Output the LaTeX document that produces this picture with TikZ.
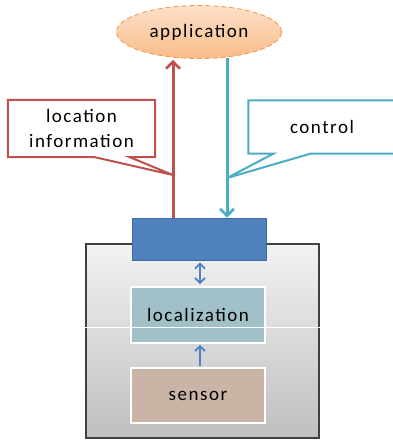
\documentclass[tikz,border=0pt]{standalone}
\usepackage{fontspec}
\setmainfont{Carlito}[LetterSpace=8]
\usetikzlibrary{positioning,shapes.geometric,shapes.misc,arrows.meta,calc}
\definecolor{appfill}{HTML}{F9BC88}
\definecolor{appline}{HTML}{F79646}
\definecolor{infored}{HTML}{C0504D}
\definecolor{ctrlcyan}{HTML}{4BACC6}
\definecolor{hubblue}{HTML}{4F81BD}
\definecolor{hubline}{HTML}{3C6AA5}
\definecolor{locfill}{HTML}{A2C0C8}
\definecolor{sensfill}{HTML}{C9B4A5}
\tikzset{
  app/.style={ellipse, draw=appline, dash pattern=on 5pt off 3pt, line width=0.8pt,
    top color=appfill!45!white, bottom color=appfill, minimum width=165pt, minimum height=53pt, inner sep=0pt},
  callbox/.style={rectangle, align=center, inner sep=0pt},
  layerbox/.style={rectangle, draw=white, line width=1.8pt, minimum width=134pt, inner sep=0pt},
  flow/.style={line width=3pt, -{Straight Barb[length=7pt,width=14pt,line width=2.6pt]}},
  link/.style={hubblue, line width=1.8pt}
}
\begin{document}
\begin{tikzpicture}[x=1pt, y=-1pt, font=\fontsize{19}{26}\selectfont]
  \useasboundingbox (0,0) rectangle (392,440);

  %device
  \node[rectangle, draw=black!75, line width=1.2pt, top color=black!5, bottom color=black!25,
    minimum width=233pt, minimum height=194pt] (dev) at (202.5,341) {};

  %blocks
  \node[app] (app) at (199,32) {application};
  \node[chamfered rectangle, chamfered rectangle corners={north west, north east},
    chamfered rectangle xsep=5pt, fill=hubblue, draw=hubline, line width=0.8pt,
    minimum width=134pt, minimum height=42pt, inner sep=0pt] (hub) at (199,239) {};
  \node[layerbox, fill=locfill, minimum height=56pt] (loc) at (198,315) {localization};
  \node[layerbox, fill=sensfill, minimum height=55pt] (sens) at (198,395.5) {sensor};

  %up and down
  \coordinate (redx) at (173,0);
  \coordinate (cyanx) at (227,0);
  \draw[flow, infored] (redx |- hub.north) -- ($(redx |- app.south)+(0,1)$);
  \draw[flow, ctrlcyan] ($(cyanx |- app.south)+(0,-1)$) -- (cyanx |- hub.north);

  %inside the device
  \draw[link, {Straight Barb[length=5pt,width=10pt]}-{Straight Barb[length=5pt,width=10pt]}]
    ($(hub.south)+(1,2)$) -- ($(loc.north)+(2,-2)$);
  \draw[link, -{Straight Barb[length=5pt,width=10pt]}] ($(sens.north)+(2,-1)$) -- ($(loc.south)+(2,1)$);

  %callouts
  \node[callbox, minimum width=147pt, minimum height=57pt] (info) at (81.5,128.5) {location\\[-1pt]information};
  \coordinate (infotip) at (173,175);
  \draw[infored, line width=2pt, line join=miter]
    (info.south west) -- (info.north west) -- (info.north east) -- (info.south east)
    -- ($(info.south west)+(122,0)$) -- (infotip) -- ($(info.south west)+(87,0)$) -- cycle;
  \node[callbox, minimum width=147pt, minimum height=53pt] (ctrl) at (322,127) {control};
  \coordinate (ctrltip) at (227,178);
  \draw[ctrlcyan, line width=2pt, line join=miter]
    (ctrl.south east) -- (ctrl.north east) -- (ctrl.north west) -- (ctrl.south west)
    -- ($(ctrl.south west)+(25,0)$) -- (ctrltip) -- ($(ctrl.south west)+(62,0)$) -- cycle;

  %seam
  \draw[white, line width=0.7pt] (dev.west |- 0,327) -- (dev.east |- 0,327);
\end{tikzpicture}
\end{document}
